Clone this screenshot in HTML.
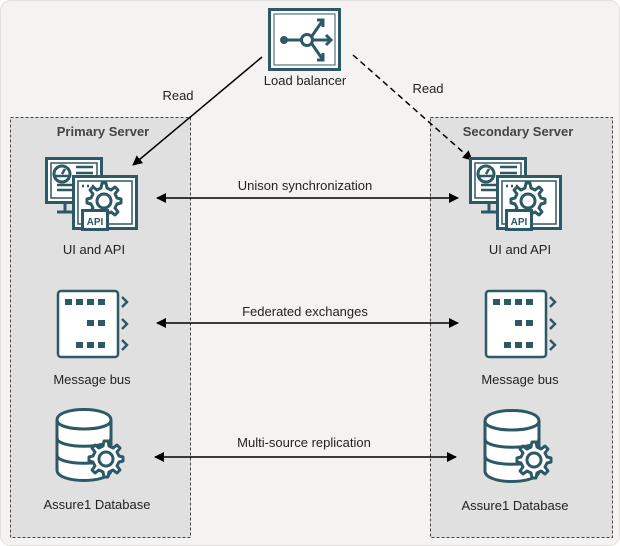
<!DOCTYPE html>
<html><head><meta charset="utf-8"><style>
html,body{margin:0;padding:0;background:#fff;}
svg{display:block;}
text{font-family:"Liberation Sans",sans-serif;font-size:13px;fill:#222;}
</style></head><body>
<svg width="620" height="546" viewBox="0 0 620 546" xmlns="http://www.w3.org/2000/svg">
<defs>
<marker id="ah" markerWidth="10" markerHeight="10" refX="9" refY="5" orient="auto-start-reverse" markerUnits="userSpaceOnUse">
<path d="M0,0 L10,5 L0,10 Z" fill="#000"/>
</marker>
<g id="gear">
<path d="M0,-17 L4,-17 L5,-12 L9,-10 L13,-13 L16,-10 L13,-6 L15,-2 L19,-1 L19,3 L15,4 L13,8 L16,12 L13,15 L9,12 L5,14 L4,19 L0,19 L-1,14 L-5,12 L-9,15 L-12,12 L-9,8 L-11,4 L-15,3 L-15,-1 L-11,-2 L-9,-6 L-12,-10 L-9,-13 L-5,-10 L-1,-12 Z" transform="translate(-2,-1)" fill="#fff" stroke="#2d5967" stroke-width="3" stroke-linejoin="round"/>
<circle cx="0" cy="0" r="7" fill="#fff" stroke="#2d5967" stroke-width="3"/>
</g>
<g id="ui">
<rect x="1.5" y="1.5" width="55" height="44" fill="#fff" stroke="#2d5967" stroke-width="3"/>
<rect x="6" y="6" width="46" height="35" fill="#fff" stroke="#2d5967" stroke-width="1.5"/>
<path d="M20,45 V54 M12,55 H32" stroke="#2d5967" stroke-width="3"/>
<circle cx="17" cy="17" r="8" fill="none" stroke="#2d5967" stroke-width="3"/>
<path d="M10,19 H24 M17,17 L20,12" stroke="#2d5967" stroke-width="2.5"/>
<path d="M31,10 H48 M31,16 H48 M12,28 H30 M12,33 H30" stroke="#2d5967" stroke-width="2.5"/>
<rect x="28.5" y="19.5" width="63" height="52" fill="#fff" stroke="#2d5967" stroke-width="3"/>
<rect x="33" y="24" width="54" height="43" fill="#fff" stroke="#2d5967" stroke-width="1.5"/>
<path d="M37,29 h2 M42,29 h2 M47,29 h2" stroke="#2d5967" stroke-width="2.5"/>
<use href="#gear" x="59" y="44"/>
<rect x="37.5" y="53.5" width="25" height="19" fill="#fff" stroke="#2d5967" stroke-width="3"/>
<text x="50" y="68" text-anchor="middle" style="font-size:10px;font-weight:bold;fill:#2d5967">API</text>
</g>
<g id="bus">
<rect x="1" y="1" width="60" height="66" rx="3" fill="#fff" stroke="#2d5967" stroke-width="2.5"/>
<g fill="#2d5967">
<rect x="8" y="9" width="7" height="6"/><rect x="19" y="9" width="7" height="6"/><rect x="30" y="9" width="7" height="6"/><rect x="41" y="9" width="7" height="6"/>
<rect x="30" y="30" width="7" height="6"/><rect x="41" y="30" width="7" height="6"/>
<rect x="19" y="52" width="7" height="6"/><rect x="30" y="52" width="7" height="6"/><rect x="41" y="52" width="7" height="6"/>
</g>
<path d="M65,7 L70,12 L65,17 M65,29 L70,34 L65,39 M65,50 L70,55 L65,60" fill="none" stroke="#2d5967" stroke-width="2.5"/>
</g>
<g id="db">
<path d="M2,12 C2,-2 56,-2 56,12 V62 C56,76 2,76 2,62 Z" fill="#fff" stroke="#2d5967" stroke-width="3"/>
<path d="M2,12 C2,24 56,24 56,12 M2,30 C2,41 56,41 56,30 M2,47 C2,58 56,58 56,47" fill="none" stroke="#2d5967" stroke-width="3"/>
<use href="#gear" x="51" y="51"/>
</g>
</defs>
<rect x="0.5" y="0.5" width="619" height="545" rx="10" fill="#f4f3f1" stroke="#e2e0dd"/>
<rect x="10.5" y="117.5" width="180" height="420" fill="#e0e0e0" stroke="#444" stroke-dasharray="3,2"/>
<rect x="430.5" y="117.5" width="182" height="420" fill="#e0e0e0" stroke="#444" stroke-dasharray="3,2"/>
<text x="103" y="136" text-anchor="middle" style="font-weight:bold;fill:#444">Primary Server</text>
<text x="518" y="136" text-anchor="middle" style="font-weight:bold;fill:#444">Secondary Server</text>
<rect x="269.5" y="9.5" width="70" height="60" fill="#fff" stroke="#2d5967" stroke-width="3"/>
<rect x="274" y="14" width="61" height="51" fill="#fff" stroke="#2d5967" stroke-width="1"/>
<circle cx="284" cy="40" r="4" fill="#2d5967"/>
<path d="M284,40 H301" stroke="#2d5967" stroke-width="3"/>
<circle cx="307" cy="40" r="5.5" fill="#fff" stroke="#2d5967" stroke-width="3"/>
<path d="M312,36 L323,20 M313,40 H331 M312,44 L323,60 M317,20 H323 V27 M326,35 L331,40 L326,45 M317,60 H323 V53" fill="none" stroke="#2d5967" stroke-width="3"/>
<text x="305" y="85" text-anchor="middle">Load balancer</text>
<line x1="262" y1="57" x2="133" y2="165" stroke="#000" stroke-width="1.5" marker-end="url(#ah)"/>
<line x1="353" y1="55" x2="472" y2="160" stroke="#000" stroke-width="1.5" stroke-dasharray="6,4" marker-end="url(#ah)"/>
<text x="178" y="100" text-anchor="middle">Read</text>
<text x="428" y="93" text-anchor="middle">Read</text>
<line x1="157" y1="198" x2="458" y2="198" stroke="#000" stroke-width="1.5" marker-start="url(#ah)" marker-end="url(#ah)"/>
<text x="305" y="190" text-anchor="middle">Unison synchronization</text>
<line x1="157" y1="323" x2="458" y2="323" stroke="#000" stroke-width="1.5" marker-start="url(#ah)" marker-end="url(#ah)"/>
<text x="305" y="316" text-anchor="middle">Federated exchanges</text>
<line x1="155" y1="457" x2="456" y2="457" stroke="#000" stroke-width="1.5" marker-start="url(#ah)" marker-end="url(#ah)"/>
<text x="304" y="447" text-anchor="middle">Multi-source replication</text>
<use href="#ui" x="45" y="157"/>
<use href="#ui" x="469" y="157"/>
<use href="#bus" x="57" y="290"/>
<use href="#bus" x="485" y="290"/>
<use href="#db" x="55" y="408"/>
<use href="#db" x="483" y="409"/>
<text x="94" y="254" text-anchor="middle">UI and API</text>
<text x="520" y="254" text-anchor="middle">UI and API</text>
<text x="92" y="384" text-anchor="middle">Message bus</text>
<text x="520" y="384" text-anchor="middle">Message bus</text>
<text x="97" y="509" text-anchor="middle">Assure1 Database</text>
<text x="515" y="510" text-anchor="middle">Assure1 Database</text>
</svg>
</body></html>
